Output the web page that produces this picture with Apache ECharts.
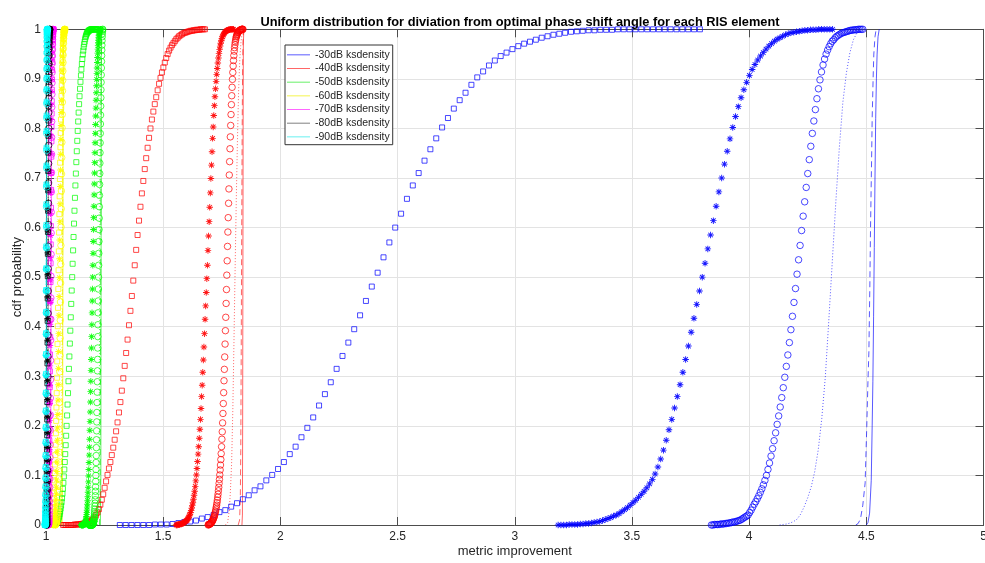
<!DOCTYPE html>
<html>
<head>
<meta charset="utf-8">
<script src="https://cdn.jsdelivr.net/npm/echarts@6/dist/echarts.min.js"></script>
<style>
  html, body { margin: 0; padding: 0; background: #ffffff; }
  #chart { width: 985px; height: 563px; }
</style>
</head>
<body>
<div id="chart"></div>
<script>
// ---------------------------------------------------------------------------
// Axes
// ---------------------------------------------------------------------------
const xTicks = [1, 1.5, 2, 2.5, 3, 3.5, 4, 4.5, 5];
const yTicks = [0, 0.1, 0.2, 0.3, 0.4, 0.5, 0.6, 0.7, 0.8, 0.9, 1];

const levels = ['-30dB', '-40dB', '-50dB', '-60dB', '-70dB', '-80dB', '-90dB'];

// ---------------------------------------------------------------------------
// ksdensity CDF estimates, evaluated on an even grid between [lo, hi]
// sq = square markers, st = asterisk markers, ci = circle markers
// ---------------------------------------------------------------------------
const sq30Range = [1.315, 3.79];
const sq30 = [0,0,0,0,0,0,0.001,0.001,0.001,0.002,
  0.004,0.006,0.007,0.009,0.013,0.016,0.020,0.026,0.030,0.037,
  0.044,0.052,0.060,0.070,0.078,0.090,0.101,0.113,0.127,0.143,
  0.158,0.177,0.196,0.217,0.241,0.264,0.288,0.315,0.341,0.368,
  0.395,0.423,0.452,0.481,0.509,0.540,0.570,0.600,0.628,0.658,
  0.685,0.710,0.735,0.758,0.780,0.802,0.821,0.840,0.857,0.872,
  0.888,0.903,0.915,0.927,0.937,0.946,0.953,0.960,0.966,0.971,
  0.975,0.979,0.983,0.986,0.989,0.991,0.993,0.995,0.996,0.997,
  0.998,0.998,0.999,0.999,0.999,1,1,1,1,1,
  1,1,1,1,1,1,1,1,1,1];

const st30Range = [3.185, 4.356];
const st30 = [0,0,0,0,0.001,0.001,0.001,0.001,0.002,0.002,
  0.003,0.003,0.004,0.005,0.006,0.007,0.009,0.011,0.013,0.015,
  0.018,0.020,0.023,0.027,0.031,0.035,0.040,0.045,0.050,0.056,
  0.062,0.068,0.075,0.083,0.092,0.103,0.117,0.133,0.151,0.171,
  0.192,0.213,0.236,0.259,0.283,0.308,0.334,0.361,0.389,0.417,
  0.445,0.472,0.500,0.528,0.557,0.585,0.614,0.643,0.672,0.700,
  0.728,0.754,0.779,0.802,0.824,0.844,0.862,0.878,0.893,0.907,
  0.919,0.929,0.938,0.946,0.953,0.960,0.966,0.971,0.976,0.980,
  0.983,0.986,0.989,0.991,0.993,0.994,0.995,0.996,0.997,0.998,
  0.998,0.999,0.999,0.999,1,1,1,1,1,1];

const ci30Range = [3.839, 4.485];
const ci30 = [0,0,0.001,0.001,0.001,0.001,0.002,0.002,0.002,0.003,
  0.003,0.004,0.004,0.005,0.006,0.006,0.007,0.008,0.009,0.010,
  0.012,0.014,0.016,0.018,0.020,0.025,0.030,0.036,0.042,0.047,
  0.053,0.059,0.066,0.073,0.081,0.090,0.100,0.112,0.125,0.139,
  0.154,0.170,0.186,0.203,0.220,0.238,0.257,0.277,0.298,0.320,
  0.343,0.368,0.394,0.421,0.449,0.477,0.506,0.535,0.564,0.594,
  0.623,0.652,0.681,0.709,0.737,0.764,0.790,0.815,0.838,0.860,
  0.880,0.898,0.914,0.928,0.940,0.950,0.958,0.965,0.971,0.976,
  0.979,0.983,0.986,0.988,0.990,0.992,0.993,0.994,0.995,0.996,
  0.997,0.998,0.998,0.999,0.999,0.999,1,1,1,1];

const sq40Range = [1.073, 1.678];
const sq40 = [0,0,0,0,0,0,0,0,0.001,0.001,
  0.001,0.001,0.002,0.002,0.003,0.003,0.004,0.005,0.006,0.008,
  0.010,0.012,0.015,0.020,0.025,0.032,0.041,0.051,0.062,0.075,
  0.088,0.101,0.114,0.127,0.141,0.156,0.172,0.189,0.207,0.227,
  0.248,0.271,0.296,0.321,0.347,0.374,0.403,0.432,0.462,0.493,
  0.524,0.555,0.585,0.614,0.642,0.669,0.694,0.718,0.740,0.761,
  0.781,0.800,0.818,0.834,0.849,0.863,0.877,0.890,0.902,0.913,
  0.923,0.933,0.942,0.950,0.957,0.963,0.968,0.972,0.976,0.980,
  0.983,0.986,0.988,0.990,0.992,0.993,0.994,0.995,0.996,0.997,
  0.997,0.998,0.998,0.999,0.999,0.999,1,1,1,1];

const st40Range = [1.555, 1.80];
const st40 = [0,0,0,0.001,0.001,0.001,0.001,0.002,0.002,0.002,
  0.003,0.003,0.004,0.004,0.005,0.006,0.007,0.008,0.009,0.010,
  0.012,0.014,0.016,0.019,0.022,0.025,0.029,0.034,0.039,0.045,
  0.052,0.060,0.068,0.078,0.089,0.101,0.114,0.128,0.143,0.158,
  0.175,0.193,0.213,0.235,0.259,0.282,0.308,0.333,0.359,0.386,
  0.415,0.442,0.469,0.497,0.524,0.554,0.583,0.612,0.641,0.670,
  0.699,0.726,0.753,0.780,0.803,0.826,0.846,0.864,0.880,0.895,
  0.909,0.921,0.932,0.942,0.951,0.959,0.966,0.972,0.977,0.981,
  0.985,0.988,0.990,0.992,0.994,0.995,0.996,0.997,0.998,0.998,
  0.999,0.999,0.999,1,1,1,1,1,1,1];

const ci40Range = [1.692, 1.8405];
const ci40 = [0,0.001,0.001,0.001,0.002,0.002,0.003,0.003,0.004,0.005,
  0.006,0.007,0.008,0.010,0.011,0.013,0.015,0.017,0.019,0.022,
  0.025,0.028,0.032,0.036,0.040,0.045,0.050,0.056,0.062,0.069,
  0.076,0.084,0.092,0.101,0.111,0.121,0.132,0.144,0.158,0.173,
  0.188,0.206,0.225,0.245,0.267,0.291,0.314,0.339,0.365,0.392,
  0.419,0.447,0.475,0.504,0.533,0.562,0.591,0.620,0.649,0.678,
  0.706,0.733,0.759,0.783,0.806,0.828,0.848,0.866,0.883,0.899,
  0.913,0.926,0.937,0.947,0.956,0.963,0.969,0.974,0.978,0.982,
  0.985,0.987,0.989,0.991,0.993,0.994,0.995,0.996,0.997,0.997,
  0.998,0.998,0.999,0.999,0.999,1,1,1,1,1];

const sq50Range = [1.025, 1.22];
const sq50 = [0,0,0,0.001,0.001,0.001,0.002,0.002,0.003,0.004,
  0.005,0.006,0.008,0.010,0.012,0.015,0.018,0.022,0.027,0.033,
  0.039,0.046,0.054,0.063,0.073,0.085,0.098,0.112,0.127,0.143,
  0.161,0.180,0.200,0.221,0.243,0.266,0.290,0.315,0.340,0.366,
  0.392,0.419,0.446,0.473,0.500,0.527,0.554,0.581,0.608,0.634,
  0.660,0.685,0.709,0.732,0.754,0.775,0.795,0.814,0.832,0.849,
  0.865,0.880,0.894,0.907,0.919,0.930,0.940,0.949,0.957,0.964,
  0.970,0.975,0.980,0.984,0.987,0.990,0.992,0.994,0.995,0.996,
  0.997,0.998,0.998,0.999,0.999,1,1,1,1,1,
  1,1,1,1,1,1,1,1,1,1];

const st50Range = [1.150, 1.235];
const st50 = [0,0,0,0,0,0,0,0,0,0,
  0,0,0,0.001,0.001,0.001,0.002,0.002,0.003,0.004,
  0.005,0.006,0.007,0.009,0.011,0.014,0.017,0.021,0.025,0.030,
  0.036,0.042,0.049,0.057,0.066,0.076,0.087,0.099,0.112,0.126,
  0.141,0.157,0.173,0.191,0.209,0.228,0.248,0.269,0.290,0.312,
  0.334,0.357,0.380,0.404,0.428,0.452,0.476,0.500,0.524,0.548,
  0.572,0.596,0.620,0.643,0.666,0.688,0.710,0.731,0.751,0.771,
  0.790,0.808,0.825,0.841,0.857,0.872,0.886,0.899,0.911,0.922,
  0.933,0.943,0.952,0.960,0.967,0.973,0.978,0.983,0.987,0.990,
  0.993,0.995,0.997,0.998,0.999,0.999,1,1,1,1];

const ci50Range = [1.185, 1.242];
const ci50 = [0,0,0,0,0,0,0,0,0,0,
  0,0,0,0,0,0,0,0,0,0,
  0,0,0,0.001,0.001,0.001,0.002,0.002,0.003,0.004,
  0.005,0.006,0.007,0.009,0.011,0.013,0.016,0.019,0.023,0.027,
  0.032,0.038,0.044,0.051,0.059,0.068,0.077,0.088,0.100,0.112,
  0.126,0.140,0.156,0.172,0.190,0.208,0.227,0.247,0.268,0.289,
  0.311,0.334,0.357,0.380,0.404,0.428,0.452,0.476,0.500,0.524,
  0.548,0.572,0.596,0.619,0.642,0.665,0.687,0.709,0.730,0.751,
  0.771,0.790,0.809,0.827,0.845,0.862,0.878,0.893,0.908,0.922,
  0.935,0.947,0.958,0.968,0.977,0.985,0.991,0.996,0.999,1];

const sq60Range = [1.015, 1.082];
const sq60 = [0,0,0.001,0.001,0.002,0.003,0.004,0.006,0.008,0.011,
  0.014,0.018,0.023,0.029,0.036,0.044,0.053,0.064,0.076,0.090,
  0.105,0.122,0.141,0.162,0.185,0.210,0.237,0.266,0.297,0.330,
  0.365,0.401,0.438,0.476,0.514,0.552,0.590,0.627,0.663,0.698,
  0.731,0.762,0.791,0.818,0.843,0.866,0.887,0.906,0.923,0.938,
  0.951,0.962,0.972,0.980,0.986,0.991,0.995,0.997,0.999,1];

const st60Range = [1.030, 1.078];
const st60 = [0,0,0,0.001,0.001,0.002,0.003,0.005,0.007,0.009,
  0.012,0.016,0.021,0.027,0.034,0.042,0.052,0.063,0.076,0.091,
  0.108,0.127,0.148,0.171,0.196,0.223,0.252,0.283,0.316,0.350,
  0.386,0.423,0.461,0.499,0.537,0.575,0.612,0.648,0.683,0.716,
  0.748,0.778,0.806,0.832,0.856,0.878,0.898,0.916,0.932,0.946,
  0.958,0.968,0.977,0.984,0.989,0.993,0.996,0.998,0.999,1];

const ci60Range = [1.040, 1.080];
const ci60 = [0,0.001,0.001,0.002,0.003,0.004,0.005,0.007,0.009,0.012,
  0.015,0.019,0.024,0.030,0.037,0.045,0.055,0.066,0.079,0.093,
  0.109,0.127,0.147,0.169,0.193,0.219,0.247,0.277,0.309,0.342,
  0.377,0.413,0.450,0.488,0.526,0.564,0.601,0.638,0.674,0.708,
  0.741,0.772,0.801,0.828,0.853,0.876,0.897,0.916,0.933,0.948,
  0.961,0.972,0.981,0.988,0.993,0.996,0.998,0.999,1,1];

const sq70Range = [1.003, 1.032];
const sq70 = [0,0,0.001,0.002,0.003,0.004,0.006,0.008,0.010,0.013,
  0.017,0.021,0.026,0.032,0.039,0.047,0.057,0.068,0.080,0.094,
  0.110,0.128,0.148,0.170,0.194,0.220,0.248,0.278,0.310,0.344,
  0.379,0.415,0.452,0.490,0.528,0.566,0.603,0.640,0.676,0.710,
  0.743,0.774,0.803,0.830,0.855,0.878,0.899,0.918,0.934,0.948,
  0.960,0.970,0.978,0.985,0.990,0.994,0.997,0.999,1,1];

const st70Range = [1.007, 1.028];
const st70 = [0,0,0.001,0.002,0.004,0.006,0.009,0.013,0.018,0.025,
  0.033,0.043,0.055,0.069,0.086,0.105,0.127,0.152,0.180,0.211,
  0.245,0.282,0.321,0.362,0.405,0.449,0.494,0.539,0.584,0.628,
  0.670,0.711,0.749,0.785,0.818,0.848,0.875,0.899,0.920,0.938,
  0.953,0.966,0.976,0.984,0.990,0.994,0.997,0.999,1,1];

const ci70Range = [1.010, 1.030];
const ci70 = [0,0.001,0.001,0.002,0.004,0.006,0.008,0.012,0.016,0.022,
  0.029,0.038,0.048,0.061,0.076,0.093,0.113,0.136,0.162,0.191,
  0.222,0.256,0.293,0.332,0.373,0.415,0.458,0.502,0.546,0.589,
  0.631,0.672,0.711,0.748,0.782,0.814,0.843,0.869,0.892,0.913,
  0.931,0.946,0.959,0.970,0.979,0.986,0.991,0.995,0.998,1];

const sq80Range = [0.998, 1.016];
const sq80 = [0,0,0.001,0.002,0.003,0.005,0.008,0.011,0.016,0.022,
  0.030,0.040,0.052,0.066,0.083,0.103,0.126,0.152,0.181,0.213,
  0.248,0.286,0.326,0.368,0.412,0.457,0.502,0.547,0.591,0.634,
  0.675,0.714,0.751,0.785,0.816,0.845,0.871,0.894,0.914,0.932,
  0.947,0.960,0.971,0.980,0.987,0.992,0.995,0.998,0.999,1];

const st80Range = [1.000, 1.014];
const st80 = [0,0.001,0.002,0.003,0.005,0.007,0.010,0.014,0.019,0.026,
  0.034,0.044,0.056,0.071,0.088,0.108,0.131,0.157,0.186,0.218,
  0.253,0.291,0.331,0.373,0.416,0.460,0.505,0.549,0.593,0.636,
  0.677,0.716,0.753,0.787,0.819,0.848,0.874,0.897,0.917,0.935,
  0.950,0.963,0.973,0.981,0.988,0.993,0.996,0.998,0.999,1];

const ci80Range = [1.002, 1.016];
const ci80 = [0,0,0.001,0.001,0.002,0.004,0.006,0.009,0.013,0.018,
  0.025,0.033,0.043,0.056,0.071,0.089,0.110,0.134,0.161,0.191,
  0.224,0.260,0.299,0.340,0.383,0.427,0.472,0.517,0.562,0.606,
  0.649,0.690,0.729,0.766,0.800,0.832,0.861,0.887,0.910,0.930,
  0.947,0.961,0.973,0.982,0.989,0.994,0.997,0.999,1,1];

const sq90Range = [0.995, 1.006];
const sq90 = [0,0.001,0.002,0.003,0.005,0.008,0.011,0.016,0.022,0.029,
  0.038,0.049,0.062,0.078,0.096,0.117,0.141,0.168,0.198,0.231,
  0.267,0.305,0.345,0.387,0.430,0.474,0.518,0.562,0.605,0.647,
  0.687,0.725,0.761,0.795,0.826,0.854,0.879,0.902,0.922,0.939,
  0.954,0.966,0.976,0.984,0.990,0.994,0.997,0.999,1,1];

const st90Range = [0.996, 1.005];
const st90 = [0,0,0.001,0.002,0.004,0.006,0.009,0.013,0.019,0.026,
  0.035,0.046,0.059,0.075,0.093,0.114,0.138,0.165,0.195,0.228,
  0.264,0.302,0.342,0.384,0.428,0.472,0.516,0.560,0.603,0.645,
  0.686,0.724,0.760,0.794,0.825,0.853,0.879,0.902,0.922,0.940,
  0.955,0.967,0.977,0.985,0.991,0.995,0.998,0.999,1,1];

const ci90Range = [0.997, 1.006];
const ci90 = [0,0.001,0.001,0.003,0.004,0.007,0.010,0.014,0.020,0.027,
  0.036,0.047,0.060,0.076,0.094,0.115,0.139,0.166,0.196,0.229,
  0.265,0.303,0.343,0.385,0.428,0.472,0.516,0.559,0.601,0.642,
  0.682,0.720,0.756,0.790,0.821,0.850,0.876,0.899,0.919,0.937,
  0.952,0.965,0.975,0.983,0.989,0.994,0.997,0.999,1,1];

// ---------------------------------------------------------------------------
// Line-drawn CDF estimates (dotted, dashed, solid), as x / probability pairs
// ---------------------------------------------------------------------------
const dot30x = [4.13,4.145,4.16,4.175,4.19,4.205,4.22,4.235,4.25,4.265,4.28,4.295,4.31,4.325,4.34,4.355,4.37,4.385,4.40,4.415,4.43,4.445,4.46,4.475];
const dot30y = [0,0.001,0.002,0.004,0.007,0.012,0.022,0.037,0.055,0.077,0.108,0.152,0.215,0.298,0.413,0.533,0.652,0.762,0.853,0.912,0.953,0.979,0.993,1];
const dash30x = [4.455,4.465,4.475,4.485,4.495,4.502,4.507,4.511,4.515,4.518,4.522,4.525,4.529,4.532,4.537,4.542];
const dash30y = [0,0.003,0.012,0.04,0.085,0.2,0.29,0.35,0.48,0.6,0.72,0.82,0.9,0.95,0.985,1];
const sol30x = [4.50,4.507,4.514,4.521,4.525,4.528,4.531,4.534,4.537,4.54,4.543,4.546,4.55,4.555];
const sol30y = [0,0.005,0.024,0.09,0.2,0.29,0.42,0.56,0.7,0.82,0.9,0.95,0.985,1];

const dot40x = [1.765,1.775,1.782,1.787,1.792,1.797,1.802,1.807,1.812,1.817,1.822,1.827,1.832,1.837,1.842];
const dot40y = [0,0.005,0.03,0.07,0.125,0.23,0.37,0.52,0.66,0.78,0.88,0.94,0.975,0.993,1];
const dash40x = [1.82,1.826,1.829,1.831,1.833,1.835,1.837,1.839,1.841,1.843];
const dash40y = [0,0.01,0.05,0.15,0.35,0.6,0.8,0.93,0.985,1];
const sol40x = [1.836,1.838,1.839,1.840,1.841,1.842,1.844];
const sol40y = [0,0.02,0.2,0.5,0.8,0.97,1];

const dot50x = [1.218,1.224,1.227,1.229,1.231,1.233,1.236];
const dot50y = [0,0.02,0.15,0.5,0.85,0.98,1];
const dash50x = [1.228,1.231,1.233,1.235,1.237];
const dash50y = [0,0.05,0.4,0.85,1];
const sol50x = [1.232,1.234,1.235,1.236,1.238];
const sol50y = [0,0.1,0.5,0.95,1];

const dot60x = [1.06,1.065,1.068,1.071,1.074,1.078];
const dot60y = [0,0.05,0.3,0.7,0.95,1];
const dash60x = [1.066,1.069,1.071,1.073,1.076];
const dash60y = [0,0.1,0.5,0.9,1];
const sol60x = [1.069,1.071,1.072,1.073,1.075];
const sol60y = [0,0.15,0.5,0.85,1];

const dot70x = [1.012,1.016,1.019,1.022,1.026];
const dot70y = [0,0.1,0.5,0.9,1];
const dash70x = [1.016,1.019,1.021,1.023,1.026];
const dash70y = [0,0.12,0.5,0.88,1];
const sol70x = [1.018,1.020,1.022,1.024,1.026];
const sol70y = [0,0.15,0.5,0.85,1];

const dot80x = [1.002,1.005,1.008,1.011,1.014];
const dot80y = [0,0.1,0.5,0.9,1];
const dash80x = [1.004,1.007,1.009,1.011,1.013];
const dash80y = [0,0.12,0.5,0.88,1];
const sol80x = [1.006,1.008,1.009,1.010,1.012];
const sol80y = [0,0.15,0.5,0.85,1];

const dot90x = [0.997,0.999,1.001,1.003,1.005];
const dot90y = [0,0.1,0.5,0.9,1];
const dash90x = [0.998,1.000,1.001,1.002,1.004];
const dash90y = [0,0.12,0.5,0.88,1];
const sol90x = [0.999,1.0005,1.0015,1.0025,1.004];
const sol90y = [0,0.15,0.5,0.85,1];

// ---------------------------------------------------------------------------
// Styling
// ---------------------------------------------------------------------------
const markerColors = ['#0000ff', '#ff0000', '#00ff00', '#ffff00', '#ff00ff', '#000000', '#00ffff'];
const lineColors = ['rgba(0,0,255,0.65)', 'rgba(255,0,0,0.6)', 'rgba(0,230,0,0.6)', 'rgba(240,240,0,0.7)',
                    'rgba(255,0,255,0.6)', 'rgba(0,0,0,0.5)', 'rgba(0,230,230,0.6)'];
const FONT = 'Liberation Sans, Arial, Helvetica, sans-serif';
const AXIS_COLOR = '#4d4d4d';
const TEXT_COLOR = '#262626';

// MATLAB-style '*' marker
const ASTERISK = 'path://M-0.7,-5L0.7,-5L0.7,5L-0.7,5Z' +
  'M-5,-0.7L5,-0.7L5,0.7L-5,0.7Z' +
  'M-3.01,-3.99L3.99,3.01L3.01,3.99L-3.99,-3.01Z' +
  'M-3.99,3.01L3.01,-3.99L3.99,-3.01L-3.01,3.99Z';

const markerCurves = [
  [0, 'sq', sq30Range, sq30], [0, 'st', st30Range, st30], [0, 'ci', ci30Range, ci30],
  [1, 'sq', sq40Range, sq40], [1, 'st', st40Range, st40], [1, 'ci', ci40Range, ci40],
  [2, 'sq', sq50Range, sq50], [2, 'st', st50Range, st50], [2, 'ci', ci50Range, ci50],
  [3, 'sq', sq60Range, sq60], [3, 'st', st60Range, st60], [3, 'ci', ci60Range, ci60],
  [4, 'sq', sq70Range, sq70], [4, 'st', st70Range, st70], [4, 'ci', ci70Range, ci70],
  [5, 'sq', sq80Range, sq80], [5, 'st', st80Range, st80], [5, 'ci', ci80Range, ci80],
  [6, 'sq', sq90Range, sq90], [6, 'st', st90Range, st90], [6, 'ci', ci90Range, ci90]
];

const lineCurves = [
  [0, 'sol', sol30x, sol30y], [1, 'sol', sol40x, sol40y], [2, 'sol', sol50x, sol50y],
  [3, 'sol', sol60x, sol60y], [4, 'sol', sol70x, sol70y], [5, 'sol', sol80x, sol80y],
  [6, 'sol', sol90x, sol90y],
  [0, 'dot', dot30x, dot30y], [0, 'dash', dash30x, dash30y],
  [1, 'dot', dot40x, dot40y], [1, 'dash', dash40x, dash40y],
  [2, 'dot', dot50x, dot50y], [2, 'dash', dash50x, dash50y],
  [3, 'dot', dot60x, dot60y], [3, 'dash', dash60x, dash60y],
  [4, 'dot', dot70x, dot70y], [4, 'dash', dash70x, dash70y],
  [5, 'dot', dot80x, dot80y], [5, 'dash', dash80x, dash80y],
  [6, 'dot', dot90x, dot90y], [6, 'dash', dash90x, dash90y]
];

function gridPoints(range, cdf) {
  const n = cdf.length;
  return cdf.map((p, i) => [range[0] + (range[1] - range[0]) * i / (n - 1), p]);
}
function zipPoints(xs, ys) {
  return xs.map((x, i) => [x, ys[i]]);
}

const series = [];

lineCurves.forEach(([lvl, kind, xs, ys]) => {
  const col = lineColors[lvl];
  series.push({
    type: 'line',
    name: kind === 'sol' ? levels[lvl] + ' ksdensity' : levels[lvl] + ' ' + kind,
    data: zipPoints(xs, ys),
    showSymbol: false,
    symbol: 'none',
    silent: true,
    clip: false,
    itemStyle: { color: col },
    lineStyle: {
      color: col,
      width: 1,
      type: kind === 'dot' ? [1, 2] : kind === 'dash' ? [6, 4] : 'solid'
    },
    z: 2
  });
});

markerCurves.forEach(([lvl, kind, range, cdf]) => {
  const col = markerColors[lvl];
  const s = {
    type: 'scatter',
    name: levels[lvl] + ' ' + kind,
    data: gridPoints(range, cdf),
    silent: true,
    clip: false,
    z: 3
  };
  if (kind === 'sq') {
    s.symbol = 'rect';
    s.symbolSize = 5;
    s.itemStyle = { color: 'rgba(0,0,0,0)', borderColor: col, borderWidth: 0.9, opacity: 0.8 };
  } else if (kind === 'ci') {
    s.symbol = 'circle';
    s.symbolSize = 6.5;
    s.itemStyle = { color: 'rgba(0,0,0,0)', borderColor: col, borderWidth: 0.9, opacity: 0.8 };
  } else {
    s.symbol = ASTERISK;
    s.symbolSize = 6.5;
    s.itemStyle = { color: col, opacity: 0.9 };
  }
  series.push(s);
});

const xMin = xTicks[0], xMax = xTicks[xTicks.length - 1], xStep = xTicks[1] - xTicks[0];
const yMin = yTicks[0], yMax = yTicks[yTicks.length - 1], yStep = 0.1;

function baseAxis(min, max, step) {
  return {
    type: 'value',
    min: min, max: max, interval: step,
    axisLine: { show: true, onZero: false, lineStyle: { color: AXIS_COLOR, width: 1 } },
    axisTick: { show: true, inside: true, length: 8, lineStyle: { color: AXIS_COLOR, width: 1 } },
    splitLine: { show: false },
    axisLabel: { show: false }
  };
}

const chart = echarts.init(document.getElementById('chart'), null, { renderer: 'canvas' });

chart.setOption({
  animation: false,
  backgroundColor: '#ffffff',
  title: {
    text: 'Uniform distribution for diviation from optimal phase shift angle for each RIS element',
    left: 515,
    top: 11,
    textAlign: 'center',
    textStyle: { fontFamily: FONT, fontSize: 12.8, fontWeight: 'bold', color: '#000000' }
  },
  grid: { left: 46, right: 1.5, top: 29.3, bottom: 38, containLabel: false, outerBoundsMode: 'none' },
  legend: {
    data: levels.map(l => l + ' ksdensity'),
    orient: 'vertical',
    left: 285,
    top: 45,
    icon: 'rect',
    itemWidth: 23,
    itemHeight: 1,
    itemGap: 0,
    padding: [3, 3, 1, 2],
    backgroundColor: '#ffffff',
    borderColor: '#333333',
    borderWidth: 1,
    selectedMode: false,
    textStyle: { fontFamily: FONT, fontSize: 10.5, color: TEXT_COLOR, lineHeight: 13.67 },
    z: 10
  },
  xAxis: [
    Object.assign(baseAxis(xMin, xMax, xStep), {
      position: 'bottom',
      splitLine: { show: true, lineStyle: { color: '#e3e3e3', width: 1 } },
      axisLabel: { show: true, color: TEXT_COLOR, fontFamily: FONT, fontSize: 12, margin: 6 },
      name: 'metric improvement',
      nameLocation: 'middle',
      nameGap: 20,
      nameMoveOverlap: false,
      nameTextStyle: { fontFamily: FONT, fontSize: 13, color: TEXT_COLOR }
    }),
    Object.assign(baseAxis(xMin, xMax, xStep), { position: 'top' })
  ],
  yAxis: [
    Object.assign(baseAxis(yMin, yMax, yStep), {
      position: 'left',
      splitLine: { show: true, lineStyle: { color: '#e3e3e3', width: 1 } },
      axisLabel: { show: true, color: TEXT_COLOR, fontFamily: FONT, fontSize: 12, margin: 5 },
      name: 'cdf probability',
      nameLocation: 'middle',
      nameGap: 22,
      nameRotate: 90,
      nameMoveOverlap: false,
      nameTextStyle: { fontFamily: FONT, fontSize: 13, color: TEXT_COLOR }
    }),
    Object.assign(baseAxis(yMin, yMax, yStep), { position: 'right' })
  ],
  series: series
});
</script>
</body>
</html>
